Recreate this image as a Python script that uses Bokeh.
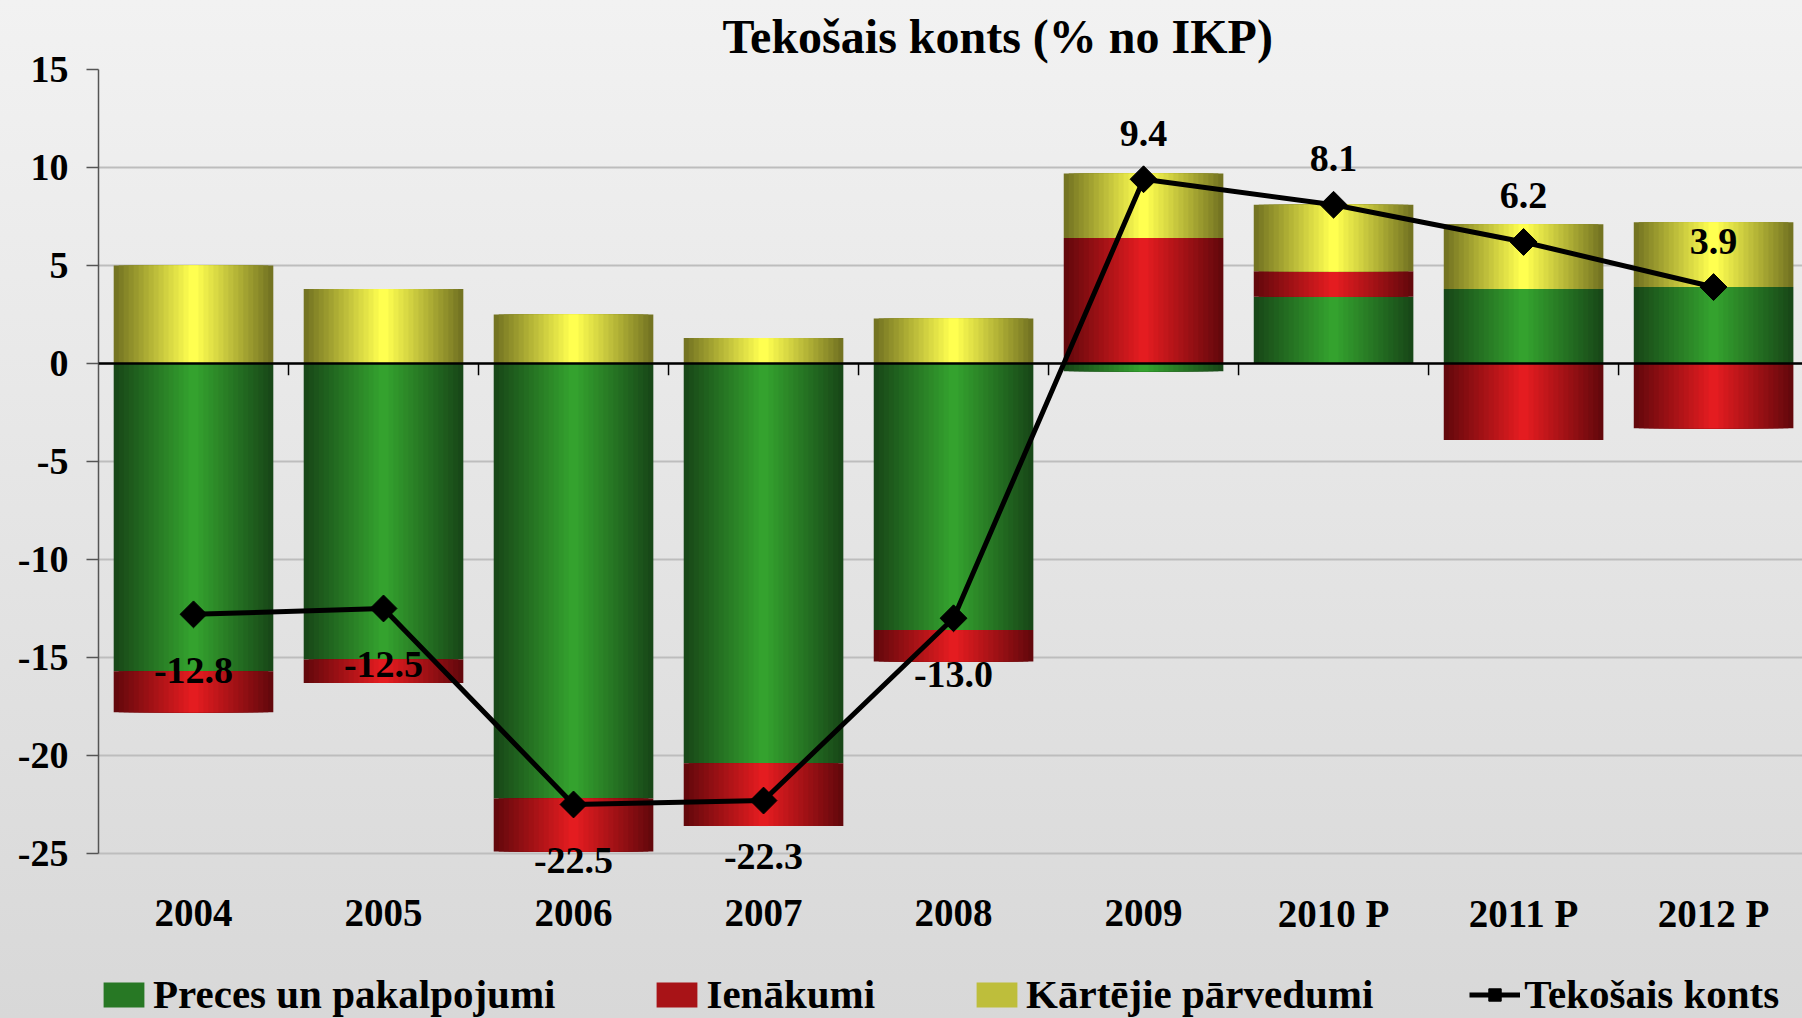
import numpy as np
from bokeh.plotting import figure
from bokeh.models import Range1d, FixedTicker, Span, Legend, LegendItem, ColumnDataSource
from bokeh.core.properties import value
from bokeh.embed import file_html
from bokeh.resources import INLINE

# ---------------- data ----------------
categories = ["2004", "2005", "2006", "2007", "2008", "2009", "2010 P", "2011 P", "2012 P"]
preces = [-15.7, -15.1, -22.2, -20.4, -13.6, -0.4, 3.4, 3.8, 3.9]       # Preces un pakalpojumi
ienakumi = [-2.1, -1.2, -2.7, -3.2, -1.6, 6.4, 1.3, -3.9, -3.3]        # Ienākumi
parvedumi = [5.0, 3.8, 2.5, 1.3, 2.3, 3.3, 3.4, 3.3, 3.3]              # Kārtējie pārvedumi
tekosais = [-12.8, -12.5, -22.5, -22.3, -13.0, 9.4, 8.1, 6.2, 3.9]     # Tekošais konts
y_ticks = [-25, -20, -15, -10, -5, 0, 5, 10, 15]
series_names = ["Preces un pakalpojumi", "Ienākumi", "Kārtējie pārvedumi"]
line_name = "Tekošais konts"
title_text = "Tekošais konts (% no IKP)"

# ---------------- style ----------------
FONT = "Liberation Serif"
N_LAYERS = 16
BAR_W = 0.84
edge_colors = [(24, 72, 24), (100, 8, 12), (116, 116, 34)]
center_colors = [(52, 162, 46), (228, 28, 32), (255, 255, 80)]


def lerp(c1, c2, t):
    return "#%02x%02x%02x" % tuple(int(round(a + (b - a) * t)) for a, b in zip(c1, c2))


x = np.arange(len(categories))
vals = np.array([preces, ienakumi, parvedumi], dtype=float)
pos = np.clip(vals, 0, None)
neg = np.clip(vals, None, 0)
pos_cum = pos.cumsum(axis=0)
neg_cum = neg.cumsum(axis=0)
tops = np.where(vals >= 0, pos_cum, neg_cum - neg)
bottoms = np.where(vals >= 0, pos_cum - pos, neg_cum)

y_lo, y_hi = min(y_ticks), max(y_ticks)
# the frame reaches to the bottom of the page; the value axis spans y_lo..y_hi
p = figure(width=1802, height=1018,
           x_range=Range1d(-0.5, 8.468), y_range=Range1d(y_lo - 8.42, y_hi),
           output_backend="svg", toolbar_location=None,
           min_border_left=98, min_border_right=0, min_border_top=69, min_border_bottom=0)
p.background_fill_alpha = 0
p.border_fill_alpha = 0
p.outline_line_alpha = 0
p.styles = {"background": "linear-gradient(to bottom, #f2f2f2 0%, #d8d8d8 100%)"}

# title
p.title.text = title_text
p.title.text_font = FONT
p.title.text_font_style = "bold"
p.title.text_font_size = "48px"
p.title.text_color = "black"
p.title.align = "left"
p.title.offset = 624
p.title.standoff = 14

# grid
p.xgrid.visible = False
p.ygrid.ticker = FixedTicker(ticks=y_ticks)
p.ygrid.grid_line_color = "#bdbdbd"
p.ygrid.grid_line_width = 2

# y axis
p.yaxis.ticker = FixedTicker(ticks=y_ticks)
p.yaxis.bounds = (y_lo, y_hi)
p.yaxis.major_label_overrides = {t: str(t) for t in y_ticks}
p.yaxis.major_label_text_font = FONT
p.yaxis.major_label_text_font_style = "bold"
p.yaxis.major_label_text_font_size = "38px"
p.yaxis.major_label_text_color = "black"
p.yaxis.major_label_standoff = 18
p.yaxis.major_tick_out = 12
p.yaxis.major_tick_in = 0
p.yaxis.minor_tick_line_color = None
p.yaxis.axis_line_color = "#555555"
p.yaxis.axis_line_width = 1.5
p.yaxis.major_tick_line_color = "#555555"
p.yaxis.major_tick_line_width = 1.5

p.xaxis.visible = False

# stacked bars with a horizontal shading (concentric layers)
legend_renderers = []
for s in range(3):
    mid_r = None
    for k in range(N_LAYERS):
        w = BAR_W * (1 - k / N_LAYERS)
        col = lerp(edge_colors[s], center_colors[s], k / (N_LAYERS - 1))
        r = p.vbar(x=x, top=tops[s], bottom=bottoms[s], width=w,
                   fill_color=col, line_color=None)
        if k == N_LAYERS // 2:
            mid_r = r
    legend_renderers.append(mid_r)

# zero line and category boundary ticks
p.add_layout(Span(location=0, dimension="width", line_color="black", line_width=2.5))
bounds = x[1:] - 0.5
TICK_LEN = 0.6
p.segment(x0=bounds, y0=np.zeros(len(bounds)), x1=bounds, y1=-TICK_LEN * np.ones(len(bounds)),
          line_color="black", line_width=1.5)

# category labels under the value axis
p.text(x=x, y=np.full(len(x), y_lo), text=categories, y_offset=60,
       text_font=value(FONT), text_font_style="bold", text_font_size="39px",
       text_align="center", text_baseline="middle", text_color="black")

# current account line
line_r = p.line(x, tekosais, line_color="black", line_width=5)
mark_r = p.scatter(x, tekosais, marker="square", angle=np.pi / 4, size=19,
                   fill_color="black", line_color="black")

tv = np.array(tekosais)
src = ColumnDataSource(dict(x=x, y=tv, t=[f"{v:.1f}" for v in tv],
                            off=np.where(tv >= 0, -46, 56)))
p.text("x", "y", "t", source=src, y_offset="off",
       text_font=value(FONT), text_font_style="bold", text_font_size="38px",
       text_align="center", text_baseline="middle", text_color="black")

# legend
items = [LegendItem(label=n, renderers=[r]) for n, r in zip(series_names, legend_renderers)]
items.append(LegendItem(label=line_name, renderers=[line_r, mark_r]))
legend = Legend(items=items, orientation="horizontal", location=(0, 0),
                glyph_width=51, glyph_height=31, label_standoff=4, spacing=96,
                label_text_font=FONT, label_text_font_style="bold",
                label_text_font_size="41px", label_text_color="black",
                background_fill_alpha=0, border_line_alpha=0, padding=0, margin=0)
p.add_layout(legend)

open("out.html", "w").write(file_html(p, INLINE))
